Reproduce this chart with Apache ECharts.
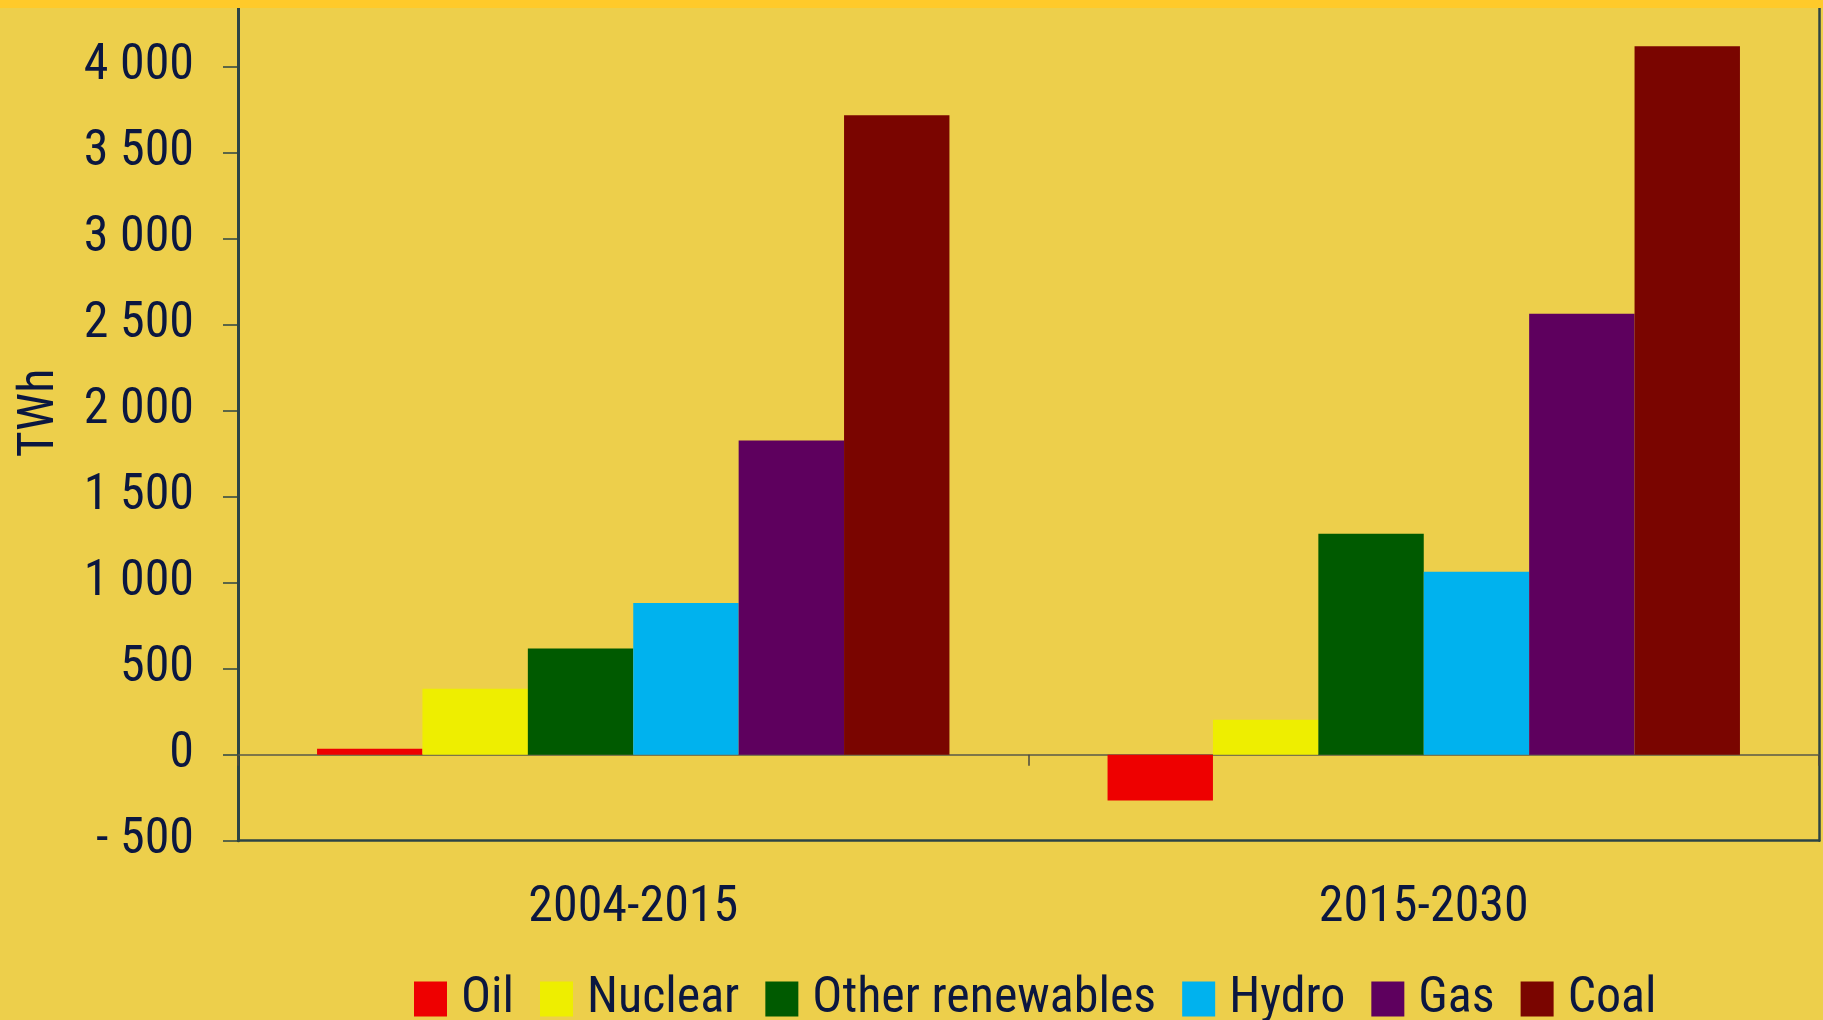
<!DOCTYPE html>
<html>
<head>
<meta charset="utf-8">
<script src="https://cdn.jsdelivr.net/npm/echarts@6/dist/echarts.min.js"></script>
<style>
html,body{margin:0;padding:0;background:#EDCF4B;}
#chart{width:1823px;height:1020px;}
</style>
</head>
<body>
<div id="chart"></div>
<script>
// ---- data ----
const categories = ['2004-2015', '2015-2030'];
const seriesNames = ['Oil', 'Nuclear', 'Other renewables', 'Hydro', 'Gas', 'Coal'];
const oil = [35, -266];
const nuclear = [384, 203];
const otherRenewables = [618, 1285];
const hydro = [882, 1064];
const gas = [1827, 2564];
const coal = [3717, 4118];
const yTickValues = [-500, 0, 500, 1000, 1500, 2000, 2500, 3000, 3500, 4000];
const yTickLabels = ['- 500', '0', '500', '1 000', '1 500', '2 000', '2 500', '3 000', '3 500', '4 000'];
const yAxisTitle = 'TWh';

// ---- styles ----
const seriesData = [oil, nuclear, otherRenewables, hydro, gas, coal];
const colors = ['#EE0000', '#EEEE00', '#005A00', '#00B2EE', '#5E005E', '#7A0500'];
const FONT = "'Roboto Condensed', 'Liberation Sans', sans-serif";
const FS = 50;
const TEXT = '#0B1740';
const AXIS = '#2C4446';

const chart = echarts.init(document.getElementById('chart'), null, {renderer: 'canvas'});
const option = {
  backgroundColor: '#EDCF4B',
  animation: false,
  grid: {left: 238, right: 4, top: 8, bottom: 179.3, containLabel: false},
  legend: {
    data: seriesNames,
    left: 409, top: 969,
    icon: 'rect', itemWidth: 33, itemHeight: 35, itemGap: 26,
    textStyle: {fontFamily: FONT, fontSize: FS, color: TEXT, lineHeight: 40, padding: [0, 0, 0, 9]}
  },
  xAxis: [
    {
      type: 'category', data: categories,
      axisLine: {onZero: true, lineStyle: {color: '#5A5A48', width: 1.5}},
      axisTick: {show: true, length: 11, lineStyle: {color: '#4A4A40', width: 1.5}},
      axisLabel: {show: false},
      splitLine: {show: false}
    },
    {
      type: 'category', data: categories, position: 'bottom',
      axisLine: {onZero: false, lineStyle: {color: AXIS, width: 2.5}},
      axisTick: {show: false},
      axisLabel: {show: true, margin: 43, fontFamily: FONT, fontSize: FS, lineHeight: 50, color: TEXT},
      splitLine: {show: false}
    }
  ],
  yAxis: [
    {
      type: 'value', min: -500, max: 4341, interval: 500,
      axisLine: {show: true, lineStyle: {color: AXIS, width: 3}},
      axisTick: {show: true, length: 15, customValues: yTickValues, lineStyle: {color: AXIS, width: 1.5}},
      axisLabel: {
        margin: 44, fontFamily: FONT, fontSize: FS, color: TEXT,
        customValues: yTickValues,
        formatter: function (v) {
          const i = yTickValues.indexOf(v);
          return i >= 0 ? yTickLabels[i] : '';
        }
      },
      splitLine: {show: false}
    },
    {
      type: 'value', min: -500, max: 4341, interval: 500, position: 'right',
      axisLine: {show: true, onZero: false, lineStyle: {color: AXIS, width: 2.5}},
      axisTick: {show: false}, axisLabel: {show: false}, splitLine: {show: false}
    }
  ],
  series: seriesNames.map(function (name, i) {
    return {
      name: name, type: 'bar', data: seriesData[i],
      xAxisIndex: 0, yAxisIndex: 0,
      barGap: '0%', barCategoryGap: '20%',
      itemStyle: {color: colors[i]}
    };
  }),
  graphic: [
    {type: 'rect', left: 0, top: 0, shape: {width: 1823, height: 8}, style: {fill: '#FFCA2A'}, z: 100},
    {type: 'text', x: 40, y: 413, rotation: Math.PI / 2,
     style: {text: yAxisTitle, fontFamily: FONT, fontSize: FS, fill: TEXT, align: 'center', verticalAlign: 'middle'}, z: 50}
  ]
};
chart.setOption(option);
</script>
</body>
</html>
